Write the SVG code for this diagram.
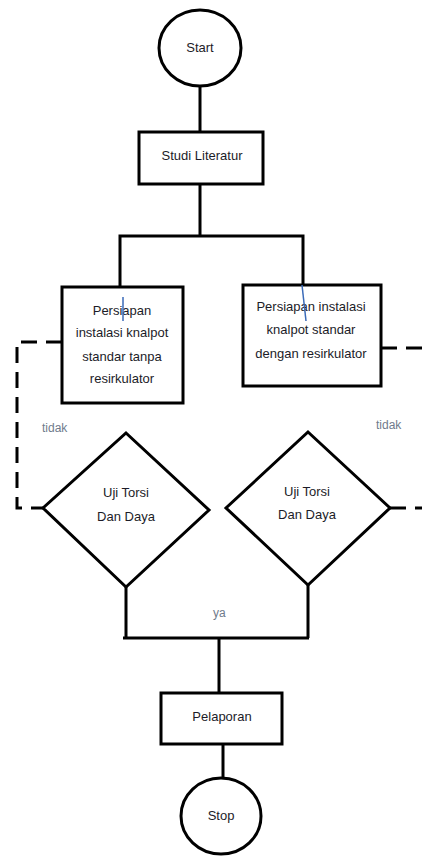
<svg xmlns="http://www.w3.org/2000/svg" width="422" height="856" viewBox="0 0 422 856">
<style>
.s{fill:#fff;stroke:#000;stroke-width:3}
.c{fill:none;stroke:#000;stroke-width:3}
.d{fill:none;stroke:#000;stroke-width:3;stroke-dasharray:16 9}
.t{font-family:"Liberation Sans",Arial,sans-serif;font-size:13px;fill:#1c1c28;text-anchor:middle}
.l{font-family:"Liberation Sans",Arial,sans-serif;font-size:12px;fill:#6f7b8c}
.cur{stroke:#3a6ab8;stroke-width:1.5}
</style>
<rect width="422" height="856" fill="#fff"/>
<g id="connectors">
<path class="c" d="M200,86 V132"/>
<path class="c" d="M200,184 V236"/>
<path class="c" d="M120,287 V236 H303 V285"/>
<path class="c" d="M126,587 V638 M308,585 V638 M123,638 H309"/>
<path class="c" d="M219,638 V693"/>
<path class="c" d="M223,744 V778"/>
<path class="d" d="M62,342 H17 V508 H43"/>
<path class="d" d="M381,348 H422"/>
<path class="d" d="M390,508 H422"/>
<text class="l" x="42" y="432">tidak</text>
<text class="l" x="376" y="429">tidak</text>
<text class="l" x="213" y="617">ya</text>
</g>
<g id="start">
<ellipse class="s" cx="200" cy="48" rx="41" ry="38"/>
<text class="t" x="200" y="52">Start</text>
</g>
<g id="studi">
<rect class="s" x="139" y="132" width="124" height="52"/>
<text class="t" x="202" y="160">Studi Literatur</text>
</g>
<g id="prep-left">
<rect class="s" x="62" y="287" width="121" height="116"/>
<text class="t" x="122" y="315">Persiapan</text>
<text class="t" x="122" y="337">instalasi knalpot</text>
<text class="t" x="122" y="361">standar tanpa</text>
<text class="t" x="122" y="383">resirkulator</text>
<line class="cur" x1="123" y1="297" x2="123" y2="321"/>
</g>
<g id="prep-right">
<rect class="s" x="243" y="285" width="138" height="101"/>
<text class="t" x="311" y="311">Persiapan instalasi</text>
<text class="t" x="311" y="334">knalpot standar</text>
<text class="t" x="311" y="358">dengan resirkulator</text>
<line class="cur" x1="302" y1="285" x2="306" y2="321"/>
</g>
<g id="uji-left">
<polygon class="s" points="126,433 209,510 126,587 43,508"/>
<text class="t" x="126" y="497">Uji Torsi</text>
<text class="t" x="126" y="521">Dan Daya</text>
</g>
<g id="uji-right">
<polygon class="s" points="308,432 390,508 308,585 226,508"/>
<text class="t" x="307" y="496">Uji Torsi</text>
<text class="t" x="307" y="519">Dan Daya</text>
</g>
<g id="pelaporan">
<rect class="s" x="161" y="693" width="121" height="51"/>
<text class="t" x="222" y="721">Pelaporan</text>
</g>
<g id="stop">
<ellipse class="s" cx="221" cy="816" rx="40" ry="38"/>
<text class="t" x="221" y="820">Stop</text>
</g>
</svg>
